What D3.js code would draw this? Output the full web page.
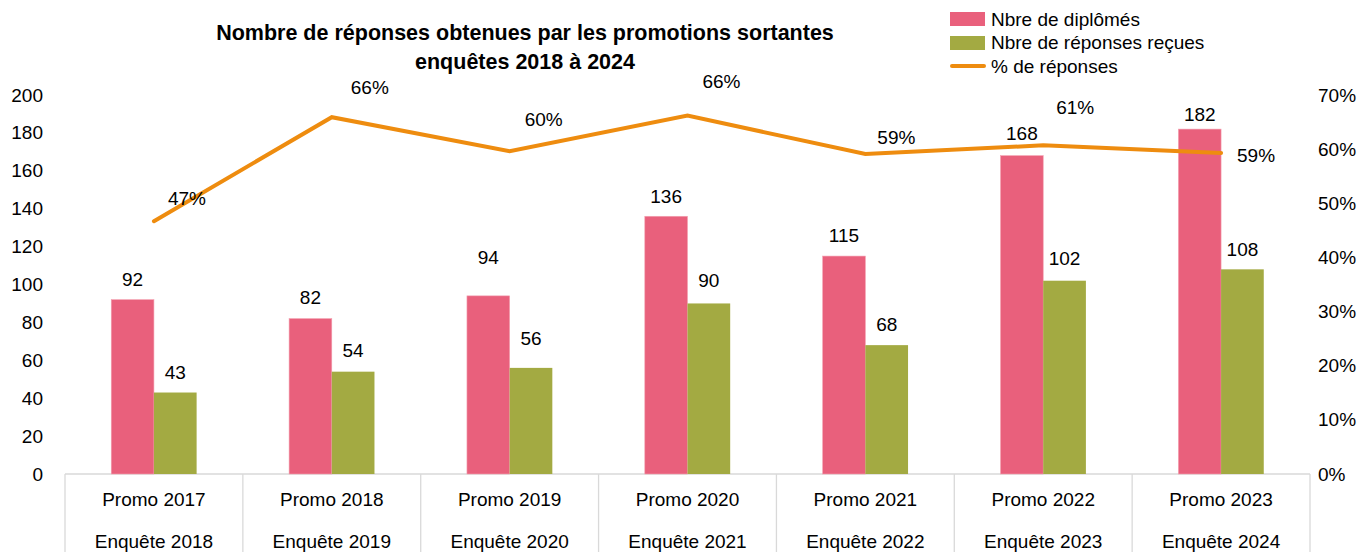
<!DOCTYPE html>
<html lang="fr">
<head>
<meta charset="UTF-8">
<title>Réponses enquêtes</title>
<script src="https://cdn.jsdelivr.net/npm/d3@7"></script>
<style>
  body { margin: 0; background: #fff; }
  svg text { font-family: "Liberation Sans", Arial, sans-serif; fill: #000; }
</style>
</head>
<body>
<svg width="1371" height="552"></svg>
<script>
var promos = ['Promo 2017', 'Promo 2018', 'Promo 2019', 'Promo 2020', 'Promo 2021', 'Promo 2022', 'Promo 2023'];
var enquetes = ['Enquête 2018', 'Enquête 2019', 'Enquête 2020', 'Enquête 2021', 'Enquête 2022', 'Enquête 2023', 'Enquête 2024'];
var diplomes = [92, 82, 94, 136, 115, 168, 182];
var reponses = [43, 54, 56, 90, 68, 102, 108];
var pctReponses = [0.467, 0.659, 0.596, 0.662, 0.591, 0.607, 0.593];
var pctLabels = ['47%', '66%', '60%', '66%', '59%', '61%', '59%'];
var leftTicks = [0, 20, 40, 60, 80, 100, 120, 140, 160, 180, 200];
var rightTicks = [0, 0.1, 0.2, 0.3, 0.4, 0.5, 0.6, 0.7];

// placement of labels, as moved by hand in the original
var pctLabelShift = [[33, -23], [38, -30], [34, -32], [34, -34], [31, -17], [32, -38], [35, 2]];
var pinkLabelLift = [20, 21, 39, 20, 21, 22, 15];
var greenLabelLift = [20, 21, 30, 23, 21, 22, 20];

var svg = d3.select('svg');
var plotLeft = 65, plotRight = 1310, plotTop = 95, plotBottom = 474;
var pink = '#e9607c', green = '#a3aa42', orange = '#ee8c0f', grid = '#d9d9d9';

var x = d3.scaleBand().domain(d3.range(promos.length)).range([plotLeft, plotRight]);
var y = d3.scaleLinear().domain([0, 200]).range([plotBottom, plotTop]);
var y2 = d3.scaleLinear().domain([0, 0.7]).range([plotBottom, plotTop]);
var barW = x.bandwidth() * 0.24;
var cx = function (i) { return x(i) + x.bandwidth() / 2; };

// title
var title = svg.append('text')
  .attr('x', 525).attr('y', 40)
  .attr('text-anchor', 'middle')
  .style('font-weight', 'bold').style('font-size', '21.5px');
title.append('tspan').attr('x', 525).text('Nombre de réponses obtenues par les promotions sortantes');
title.append('tspan').attr('x', 525).attr('dy', 29).text('enquêtes 2018 à 2024');

// axes
var axL = svg.append('g').attr('transform', 'translate(' + plotLeft + ',0)')
  .call(d3.axisLeft(y).tickValues(leftTicks).tickSize(0).tickPadding(22));
axL.select('.domain').remove();
axL.selectAll('text').style('font-size', '19px');

var axR = svg.append('g').attr('transform', 'translate(' + plotRight + ',0)')
  .call(d3.axisRight(y2).tickValues(rightTicks).tickSize(0).tickPadding(8).tickFormat(d3.format('.0%')));
axR.select('.domain').remove();
axR.selectAll('text').style('font-size', '19px');

// category box lines
svg.append('line').attr('x1', plotLeft).attr('x2', plotRight).attr('y1', plotBottom).attr('y2', plotBottom)
  .attr('stroke', grid).attr('stroke-width', 1.3);
svg.selectAll('.sep').data(d3.range(promos.length + 1)).enter().append('line')
  .attr('x1', function (d) { return d < promos.length ? x(d) : plotRight; })
  .attr('x2', function (d) { return d < promos.length ? x(d) : plotRight; })
  .attr('y1', plotBottom).attr('y2', 552)
  .attr('stroke', grid).attr('stroke-width', 1.3);

var cats = svg.selectAll('.cat').data(promos).enter().append('text')
  .attr('text-anchor', 'middle').style('font-size', '19px');
cats.append('tspan').attr('x', function (d, i) { return cx(i); }).attr('y', 506).text(function (d) { return d; });
cats.append('tspan').attr('x', function (d, i) { return cx(i); }).attr('y', 548).text(function (d, i) { return enquetes[i]; });

// bars
svg.selectAll('.bp').data(diplomes).enter().append('rect')
  .attr('x', function (d, i) { return cx(i) - barW; })
  .attr('y', function (d) { return y(d); })
  .attr('width', barW)
  .attr('height', function (d) { return plotBottom - y(d); })
  .attr('fill', pink).attr('stroke', '#f3a0b0').attr('stroke-width', 0.6);

svg.selectAll('.bg').data(reponses).enter().append('rect')
  .attr('x', function (d, i) { return cx(i); })
  .attr('y', function (d) { return y(d); })
  .attr('width', barW)
  .attr('height', function (d) { return plotBottom - y(d); })
  .attr('fill', green);

svg.selectAll('.lp').data(diplomes).enter().append('text')
  .attr('x', function (d, i) { return cx(i) - barW / 2; })
  .attr('y', function (d, i) { return y(d) - pinkLabelLift[i]; })
  .attr('dy', '0.35em').attr('text-anchor', 'middle').style('font-size', '19px')
  .text(function (d) { return d; });

svg.selectAll('.lg').data(reponses).enter().append('text')
  .attr('x', function (d, i) { return cx(i) + barW / 2; })
  .attr('y', function (d, i) { return y(d) - greenLabelLift[i]; })
  .attr('dy', '0.35em').attr('text-anchor', 'middle').style('font-size', '19px')
  .text(function (d) { return d; });

// line
var line = d3.line().x(function (d, i) { return cx(i); }).y(function (d) { return y2(d); });
svg.append('path').datum(pctReponses).attr('d', line)
  .attr('fill', 'none').attr('stroke', orange).attr('stroke-width', 4).attr('stroke-linecap', 'round');

svg.selectAll('.lpct').data(pctReponses).enter().append('text')
  .attr('x', function (d, i) { return cx(i) + pctLabelShift[i][0]; })
  .attr('y', function (d, i) { return y2(d) + pctLabelShift[i][1]; })
  .attr('dy', '0.35em').attr('text-anchor', 'middle').style('font-size', '19px')
  .text(function (d, i) { return pctLabels[i]; });

// legend
var lg = svg.append('g').attr('transform', 'translate(950,0)');
lg.append('rect').attr('x', 0).attr('y', 12).attr('width', 35).attr('height', 14).attr('fill', pink);
lg.append('rect').attr('x', 0).attr('y', 36).attr('width', 35).attr('height', 14).attr('fill', green);
lg.append('line').attr('x1', 2).attr('x2', 34).attr('y1', 66).attr('y2', 66)
  .attr('stroke', orange).attr('stroke-width', 4).attr('stroke-linecap', 'round');
var legendNames = ['Nbre de diplômés', 'Nbre de réponses reçues', '% de réponses'];
lg.selectAll('.lt').data(legendNames).enter().append('text')
  .attr('x', 41).attr('y', function (d, i) { return 19 + i * 23.5; })
  .attr('dy', '0.35em').style('font-size', '19px')
  .text(function (d) { return d; });
</script>
</body>
</html>
